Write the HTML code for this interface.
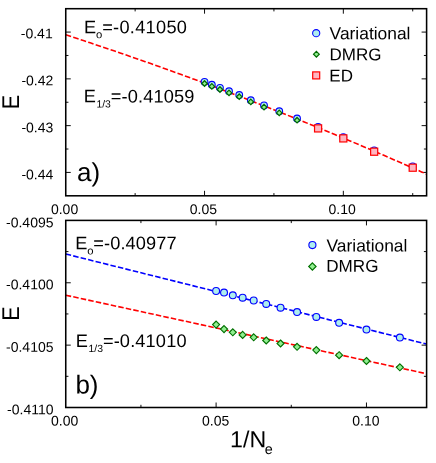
<!DOCTYPE html>
<html><head><meta charset="utf-8"><title>chart</title>
<style>html,body{margin:0;padding:0;background:#fff;}body{width:436px;height:463px;position:relative;overflow:hidden;font-family:"Liberation Sans",sans-serif;}</style>
</head><body>
<svg width="436" height="463" viewBox="0 0 436 463" style="position:absolute;left:0;top:0;will-change:transform;text-rendering:geometricPrecision">
<rect width="436" height="463" fill="#fff"/>
<line x1="204.54" y1="195.80" x2="204.54" y2="190.80" stroke="#000" stroke-width="0.95"/>
<line x1="204.54" y1="8.70" x2="204.54" y2="13.70" stroke="#000" stroke-width="0.95"/>
<line x1="343.33" y1="195.80" x2="343.33" y2="190.80" stroke="#000" stroke-width="0.95"/>
<line x1="343.33" y1="8.70" x2="343.33" y2="13.70" stroke="#000" stroke-width="0.95"/>
<line x1="135.14" y1="195.80" x2="135.14" y2="193.10" stroke="#000" stroke-width="0.95"/>
<line x1="135.14" y1="8.70" x2="135.14" y2="11.40" stroke="#000" stroke-width="0.95"/>
<line x1="273.93" y1="195.80" x2="273.93" y2="193.10" stroke="#000" stroke-width="0.95"/>
<line x1="273.93" y1="8.70" x2="273.93" y2="11.40" stroke="#000" stroke-width="0.95"/>
<line x1="412.72" y1="195.80" x2="412.72" y2="193.10" stroke="#000" stroke-width="0.95"/>
<line x1="412.72" y1="8.70" x2="412.72" y2="11.40" stroke="#000" stroke-width="0.95"/>
<line x1="65.75" y1="32.09" x2="70.75" y2="32.09" stroke="#000" stroke-width="0.95"/>
<line x1="426.60" y1="32.09" x2="421.60" y2="32.09" stroke="#000" stroke-width="0.95"/>
<line x1="65.75" y1="78.86" x2="70.75" y2="78.86" stroke="#000" stroke-width="0.95"/>
<line x1="426.60" y1="78.86" x2="421.60" y2="78.86" stroke="#000" stroke-width="0.95"/>
<line x1="65.75" y1="125.64" x2="70.75" y2="125.64" stroke="#000" stroke-width="0.95"/>
<line x1="426.60" y1="125.64" x2="421.60" y2="125.64" stroke="#000" stroke-width="0.95"/>
<line x1="65.75" y1="172.41" x2="70.75" y2="172.41" stroke="#000" stroke-width="0.95"/>
<line x1="426.60" y1="172.41" x2="421.60" y2="172.41" stroke="#000" stroke-width="0.95"/>
<line x1="65.75" y1="55.47" x2="68.45" y2="55.47" stroke="#000" stroke-width="0.95"/>
<line x1="426.60" y1="55.47" x2="423.90" y2="55.47" stroke="#000" stroke-width="0.95"/>
<line x1="65.75" y1="102.25" x2="68.45" y2="102.25" stroke="#000" stroke-width="0.95"/>
<line x1="426.60" y1="102.25" x2="423.90" y2="102.25" stroke="#000" stroke-width="0.95"/>
<line x1="65.75" y1="149.02" x2="68.45" y2="149.02" stroke="#000" stroke-width="0.95"/>
<line x1="426.60" y1="149.02" x2="423.90" y2="149.02" stroke="#000" stroke-width="0.95"/>
<line x1="216.10" y1="407.50" x2="216.10" y2="402.50" stroke="#000" stroke-width="0.95"/>
<line x1="216.10" y1="220.40" x2="216.10" y2="225.40" stroke="#000" stroke-width="0.95"/>
<line x1="366.46" y1="407.50" x2="366.46" y2="402.50" stroke="#000" stroke-width="0.95"/>
<line x1="366.46" y1="220.40" x2="366.46" y2="225.40" stroke="#000" stroke-width="0.95"/>
<line x1="140.93" y1="407.50" x2="140.93" y2="404.80" stroke="#000" stroke-width="0.95"/>
<line x1="140.93" y1="220.40" x2="140.93" y2="223.10" stroke="#000" stroke-width="0.95"/>
<line x1="291.28" y1="407.50" x2="291.28" y2="404.80" stroke="#000" stroke-width="0.95"/>
<line x1="291.28" y1="220.40" x2="291.28" y2="223.10" stroke="#000" stroke-width="0.95"/>
<line x1="65.75" y1="282.77" x2="70.75" y2="282.77" stroke="#000" stroke-width="0.95"/>
<line x1="426.60" y1="282.77" x2="421.60" y2="282.77" stroke="#000" stroke-width="0.95"/>
<line x1="65.75" y1="345.13" x2="70.75" y2="345.13" stroke="#000" stroke-width="0.95"/>
<line x1="426.60" y1="345.13" x2="421.60" y2="345.13" stroke="#000" stroke-width="0.95"/>
<line x1="65.75" y1="251.58" x2="68.45" y2="251.58" stroke="#000" stroke-width="0.95"/>
<line x1="426.60" y1="251.58" x2="423.90" y2="251.58" stroke="#000" stroke-width="0.95"/>
<line x1="65.75" y1="313.95" x2="68.45" y2="313.95" stroke="#000" stroke-width="0.95"/>
<line x1="426.60" y1="313.95" x2="423.90" y2="313.95" stroke="#000" stroke-width="0.95"/>
<line x1="65.75" y1="376.32" x2="68.45" y2="376.32" stroke="#000" stroke-width="0.95"/>
<line x1="426.60" y1="376.32" x2="423.90" y2="376.32" stroke="#000" stroke-width="0.95"/>
<path d="M65.75,34.80 L71.87,36.80 L77.98,38.80 L84.10,40.82 L90.21,42.85 L96.33,44.89 L102.45,46.95 L108.56,49.02 L114.68,51.10 L120.79,53.19 L126.91,55.30 L133.03,57.42 L139.14,59.55 L145.26,61.70 L151.38,63.86 L157.49,66.03 L163.61,68.21 L169.72,70.41 L175.84,72.62 L181.96,74.84 L188.07,77.07 L194.19,79.32 L200.30,81.58 L206.42,83.85 L212.54,86.14 L218.65,88.44 L224.77,90.75 L230.88,93.07 L237.00,95.41 L243.12,97.76 L249.23,100.12 L255.35,102.50 L261.47,104.88 L267.58,107.29 L273.70,109.70 L279.81,112.13 L285.93,114.56 L292.05,117.02 L298.16,119.48 L304.28,121.96 L310.39,124.45 L316.51,126.95 L322.63,129.47 L328.74,132.00 L334.86,134.54 L340.97,137.09 L347.09,139.66 L353.21,142.24 L359.32,144.83 L365.44,147.43 L371.56,150.05 L377.67,152.68 L383.79,155.33 L389.90,157.98 L396.02,160.65 L402.14,163.33 L408.25,166.03 L414.37,168.73 L420.48,171.45 L426.60,174.19" fill="none" stroke="#ff0000" stroke-width="1.6" stroke-dasharray="5.6 2.28"/>
<circle cx="204.54" cy="81.80" r="3.35" fill="#aeeeee" stroke="#0000ff" stroke-width="1.1"/>
<circle cx="211.84" cy="84.70" r="3.35" fill="#aeeeee" stroke="#0000ff" stroke-width="1.1"/>
<circle cx="219.96" cy="87.80" r="3.35" fill="#aeeeee" stroke="#0000ff" stroke-width="1.1"/>
<circle cx="229.03" cy="91.20" r="3.35" fill="#aeeeee" stroke="#0000ff" stroke-width="1.1"/>
<circle cx="239.24" cy="95.00" r="3.35" fill="#aeeeee" stroke="#0000ff" stroke-width="1.1"/>
<circle cx="250.80" cy="100.20" r="3.35" fill="#aeeeee" stroke="#0000ff" stroke-width="1.1"/>
<circle cx="264.02" cy="105.40" r="3.35" fill="#aeeeee" stroke="#0000ff" stroke-width="1.1"/>
<circle cx="279.27" cy="111.20" r="3.35" fill="#aeeeee" stroke="#0000ff" stroke-width="1.1"/>
<circle cx="297.06" cy="118.50" r="3.35" fill="#aeeeee" stroke="#0000ff" stroke-width="1.1"/>
<circle cx="318.09" cy="126.90" r="3.35" fill="#aeeeee" stroke="#0000ff" stroke-width="1.1"/>
<circle cx="343.33" cy="137.20" r="3.35" fill="#aeeeee" stroke="#0000ff" stroke-width="1.1"/>
<circle cx="374.17" cy="150.40" r="3.35" fill="#aeeeee" stroke="#0000ff" stroke-width="1.1"/>
<circle cx="412.72" cy="166.40" r="3.35" fill="#aeeeee" stroke="#0000ff" stroke-width="1.1"/>
<path d="M204.54,80.75 L207.29,83.50 L204.54,86.25 L201.79,83.50 Z" fill="#90ee90" stroke="#006a00" stroke-width="1.25"/>
<path d="M211.84,83.65 L214.59,86.40 L211.84,89.15 L209.09,86.40 Z" fill="#90ee90" stroke="#006a00" stroke-width="1.25"/>
<path d="M219.96,86.75 L222.71,89.50 L219.96,92.25 L217.21,89.50 Z" fill="#90ee90" stroke="#006a00" stroke-width="1.25"/>
<path d="M229.03,90.15 L231.78,92.90 L229.03,95.65 L226.28,92.90 Z" fill="#90ee90" stroke="#006a00" stroke-width="1.25"/>
<path d="M239.24,93.95 L241.99,96.70 L239.24,99.45 L236.49,96.70 Z" fill="#90ee90" stroke="#006a00" stroke-width="1.25"/>
<path d="M250.80,99.15 L253.55,101.90 L250.80,104.65 L248.05,101.90 Z" fill="#90ee90" stroke="#006a00" stroke-width="1.25"/>
<path d="M264.02,104.35 L266.77,107.10 L264.02,109.85 L261.27,107.10 Z" fill="#90ee90" stroke="#006a00" stroke-width="1.25"/>
<path d="M279.27,110.15 L282.02,112.90 L279.27,115.65 L276.52,112.90 Z" fill="#90ee90" stroke="#006a00" stroke-width="1.25"/>
<path d="M297.06,117.45 L299.81,120.20 L297.06,122.95 L294.31,120.20 Z" fill="#90ee90" stroke="#006a00" stroke-width="1.25"/>
<rect x="314.54" y="124.85" width="7.10" height="7.10" fill="#ffb6c1" stroke="#ff0000" stroke-width="1.2"/>
<rect x="339.78" y="134.85" width="7.10" height="7.10" fill="#ffb6c1" stroke="#ff0000" stroke-width="1.2"/>
<rect x="370.62" y="148.15" width="7.10" height="7.10" fill="#ffb6c1" stroke="#ff0000" stroke-width="1.2"/>
<rect x="409.17" y="164.15" width="7.10" height="7.10" fill="#ffb6c1" stroke="#ff0000" stroke-width="1.2"/>
<path d="M65.75,253.99 L426.6,344.09" fill="none" stroke="#0000ff" stroke-width="1.6" stroke-dasharray="5.5 2.18"/>
<path d="M65.75,295.20 L426.6,373.75" fill="none" stroke="#ff0000" stroke-width="1.6" stroke-dasharray="5.5 2.18"/>
<circle cx="216.10" cy="291.00" r="3.45" fill="#aeeeee" stroke="#0000ff" stroke-width="1.1"/>
<circle cx="224.02" cy="292.60" r="3.45" fill="#aeeeee" stroke="#0000ff" stroke-width="1.1"/>
<circle cx="232.81" cy="295.30" r="3.45" fill="#aeeeee" stroke="#0000ff" stroke-width="1.1"/>
<circle cx="242.64" cy="297.70" r="3.45" fill="#aeeeee" stroke="#0000ff" stroke-width="1.1"/>
<circle cx="253.69" cy="300.50" r="3.45" fill="#aeeeee" stroke="#0000ff" stroke-width="1.1"/>
<circle cx="266.22" cy="303.90" r="3.45" fill="#aeeeee" stroke="#0000ff" stroke-width="1.1"/>
<circle cx="280.54" cy="307.70" r="3.45" fill="#aeeeee" stroke="#0000ff" stroke-width="1.1"/>
<circle cx="297.06" cy="312.10" r="3.45" fill="#aeeeee" stroke="#0000ff" stroke-width="1.1"/>
<circle cx="316.34" cy="316.90" r="3.45" fill="#aeeeee" stroke="#0000ff" stroke-width="1.1"/>
<circle cx="339.12" cy="322.80" r="3.45" fill="#aeeeee" stroke="#0000ff" stroke-width="1.1"/>
<circle cx="366.46" cy="329.60" r="3.45" fill="#aeeeee" stroke="#0000ff" stroke-width="1.1"/>
<circle cx="399.87" cy="337.60" r="3.45" fill="#aeeeee" stroke="#0000ff" stroke-width="1.1"/>
<path d="M216.10,321.10 L219.60,324.60 L216.10,328.10 L212.60,324.60 Z" fill="#90ee90" stroke="#007000" stroke-width="1.15"/>
<path d="M224.02,325.60 L227.52,329.10 L224.02,332.60 L220.52,329.10 Z" fill="#90ee90" stroke="#007000" stroke-width="1.15"/>
<path d="M232.81,328.80 L236.31,332.30 L232.81,335.80 L229.31,332.30 Z" fill="#90ee90" stroke="#007000" stroke-width="1.15"/>
<path d="M242.64,331.40 L246.14,334.90 L242.64,338.40 L239.14,334.90 Z" fill="#90ee90" stroke="#007000" stroke-width="1.15"/>
<path d="M253.69,333.80 L257.19,337.30 L253.69,340.80 L250.19,337.30 Z" fill="#90ee90" stroke="#007000" stroke-width="1.15"/>
<path d="M266.22,337.00 L269.72,340.50 L266.22,344.00 L262.72,340.50 Z" fill="#90ee90" stroke="#007000" stroke-width="1.15"/>
<path d="M280.54,340.00 L284.04,343.50 L280.54,347.00 L277.04,343.50 Z" fill="#90ee90" stroke="#007000" stroke-width="1.15"/>
<path d="M297.06,343.30 L300.56,346.80 L297.06,350.30 L293.56,346.80 Z" fill="#90ee90" stroke="#007000" stroke-width="1.15"/>
<path d="M316.34,346.60 L319.84,350.10 L316.34,353.60 L312.84,350.10 Z" fill="#90ee90" stroke="#007000" stroke-width="1.15"/>
<path d="M339.12,351.70 L342.62,355.20 L339.12,358.70 L335.62,355.20 Z" fill="#90ee90" stroke="#007000" stroke-width="1.15"/>
<path d="M366.46,357.50 L369.96,361.00 L366.46,364.50 L362.96,361.00 Z" fill="#90ee90" stroke="#007000" stroke-width="1.15"/>
<path d="M399.87,363.80 L403.37,367.30 L399.87,370.80 L396.37,367.30 Z" fill="#90ee90" stroke="#007000" stroke-width="1.15"/>
<rect x="65.75" y="8.7" width="360.85" height="187.10000000000002" fill="none" stroke="#000" stroke-width="1.55"/>
<rect x="65.75" y="220.4" width="360.85" height="187.1" fill="none" stroke="#000" stroke-width="1.55"/>
<text transform="translate(52.7,38.25) rotate(0.04)" font-size="14" text-anchor="end" font-family="Liberation Sans, sans-serif" fill="#000" >-0.41</text>
<text transform="translate(53.3,85.25) rotate(0.04)" font-size="14" text-anchor="end" font-family="Liberation Sans, sans-serif" fill="#000" >-0.42</text>
<text transform="translate(53.3,132.3) rotate(0.04)" font-size="14" text-anchor="end" font-family="Liberation Sans, sans-serif" fill="#000" >-0.43</text>
<text transform="translate(53.3,179.3) rotate(0.04)" font-size="14" text-anchor="end" font-family="Liberation Sans, sans-serif" fill="#000" >-0.44</text>
<text transform="translate(53.5,227.3) rotate(0.04)" font-size="14" text-anchor="end" font-family="Liberation Sans, sans-serif" fill="#000" >-0.4095</text>
<text transform="translate(53.5,289.2) rotate(0.04)" font-size="14" text-anchor="end" font-family="Liberation Sans, sans-serif" fill="#000" >-0.4100</text>
<text transform="translate(53.5,351.7) rotate(0.04)" font-size="14" text-anchor="end" font-family="Liberation Sans, sans-serif" fill="#000" >-0.4105</text>
<text transform="translate(53.5,414.3) rotate(0.04)" font-size="14" text-anchor="end" font-family="Liberation Sans, sans-serif" fill="#000" >-0.4110</text>
<text transform="translate(64.55,213.9) rotate(0.04)" font-size="14" text-anchor="middle" font-family="Liberation Sans, sans-serif" fill="#000" >0.00</text>
<text transform="translate(64.65,425.55) rotate(0.04)" font-size="14" text-anchor="middle" font-family="Liberation Sans, sans-serif" fill="#000" >0.00</text>
<text transform="translate(203.34,213.9) rotate(0.04)" font-size="14" text-anchor="middle" font-family="Liberation Sans, sans-serif" fill="#000" >0.05</text>
<text transform="translate(215.70,425.55) rotate(0.04)" font-size="14" text-anchor="middle" font-family="Liberation Sans, sans-serif" fill="#000" >0.05</text>
<text transform="translate(342.13,213.9) rotate(0.04)" font-size="14" text-anchor="middle" font-family="Liberation Sans, sans-serif" fill="#000" >0.10</text>
<text transform="translate(365.86,425.55) rotate(0.04)" font-size="14" text-anchor="middle" font-family="Liberation Sans, sans-serif" fill="#000" >0.10</text>
<text transform="translate(84.0,33.2) rotate(0.04)" font-size="18.2" font-family="Liberation Sans, sans-serif" fill="#000">E<tspan font-size="11.3" dy="5.1" dx="-0.2">o</tspan><tspan dy="-5.1" dx="-0.1" letter-spacing="0.3">=-0.41050</tspan></text>
<text transform="translate(83.7,102.35) rotate(0.04)" font-size="18.2" font-family="Liberation Sans, sans-serif" fill="#000">E<tspan font-size="10.4" dy="5.1" dx="0.6">1/3</tspan><tspan dy="-5.1" dx="-0.1" letter-spacing="0.15">=-0.41059</tspan></text>
<text transform="translate(75.2,249.3) rotate(0.04)" font-size="18.2" font-family="Liberation Sans, sans-serif" fill="#000">E<tspan font-size="11.3" dy="5.1" dx="-0.2">o</tspan><tspan dy="-5.1" dx="-0.1" letter-spacing="0.1">=-0.40977</tspan></text>
<text transform="translate(75.8,347.0) rotate(0.04)" font-size="18.2" font-family="Liberation Sans, sans-serif" fill="#000">E<tspan font-size="10.4" dy="5.1" dx="0.6">1/3</tspan><tspan dy="-5.1" dx="-0.1" letter-spacing="0.15">=-0.41010</tspan></text>
<text transform="translate(77,180.9) rotate(0.04)" font-size="26" text-anchor="start" font-family="Liberation Sans, sans-serif" fill="#000" >a)</text>
<text transform="translate(75.4,393.6) rotate(0.04)" font-size="26" text-anchor="start" font-family="Liberation Sans, sans-serif" fill="#000" >b)</text>
<circle cx="316.2" cy="33.2" r="3.6" fill="#aeeeee" stroke="#0000ff" stroke-width="1.05"/>
<path d="M316.40,51.35 L319.25,54.20 L316.40,57.05 L313.55,54.20 Z" fill="#90ee90" stroke="#006a00" stroke-width="1.2"/>
<rect x="312.70" y="71.90" width="7.00" height="7.00" fill="#ffb6c1" stroke="#ff0000" stroke-width="1.2"/>
<text transform="translate(329.6,39.2) rotate(0.04)" font-size="17.4" text-anchor="start" font-family="Liberation Sans, sans-serif" fill="#000" >Variational</text>
<text transform="translate(329.5,60.3) rotate(0.04)" font-size="17.0" text-anchor="start" font-family="Liberation Sans, sans-serif" fill="#000" >DMRG</text>
<text transform="translate(329.3,81.6) rotate(0.04)" font-size="17.0" text-anchor="start" font-family="Liberation Sans, sans-serif" fill="#000" >ED</text>
<circle cx="312.4" cy="245.1" r="3.55" fill="#aeeeee" stroke="#0000ff" stroke-width="1.1"/>
<path d="M312.40,262.80 L316.10,266.50 L312.40,270.20 L308.70,266.50 Z" fill="#90ee90" stroke="#007000" stroke-width="1.15"/>
<text transform="translate(326.5,251.5) rotate(0.04)" font-size="17.4" text-anchor="start" font-family="Liberation Sans, sans-serif" fill="#000" >Variational</text>
<text transform="translate(326.2,271.8) rotate(0.04)" font-size="17.1" text-anchor="start" font-family="Liberation Sans, sans-serif" fill="#000" >DMRG</text>
<text transform="translate(18.6,102.15) rotate(-90) scale(0.89,1)" font-size="24.2" text-anchor="middle" font-family="Liberation Sans, sans-serif">E</text>
<text transform="translate(18.9,313.45) rotate(-90) scale(0.89,1)" font-size="24.2" text-anchor="middle" font-family="Liberation Sans, sans-serif">E</text>
<text transform="translate(230.1,447.2) rotate(0.04)" font-size="23.2" font-family="Liberation Sans, sans-serif">1/N<tspan font-size="14.4" dy="6.7" dx="-1.4">e</tspan></text>
</svg>
</body></html>
